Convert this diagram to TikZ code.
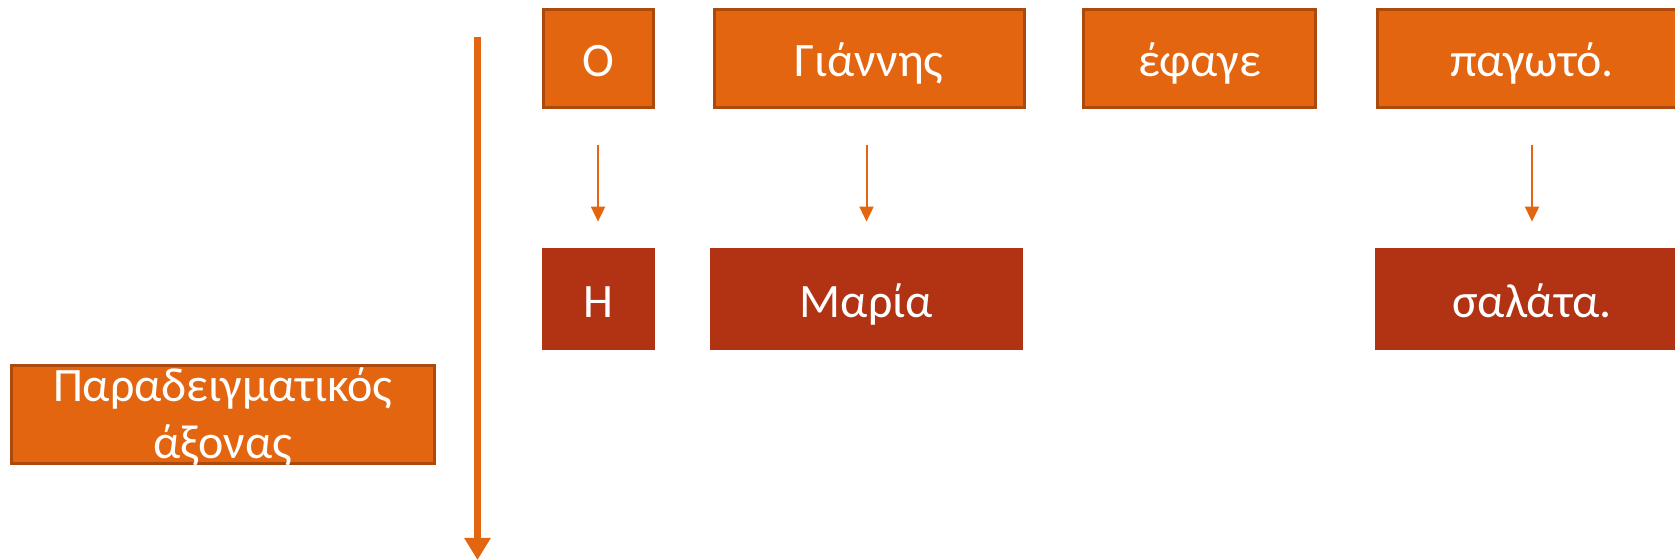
\documentclass[tikz,border=0pt]{standalone}
\usepackage{fontspec}
\setmainfont{Carlito}
\usetikzlibrary{arrows.meta}
\definecolor{ocre}{RGB}{227,101,16}
\definecolor{brique}{RGB}{178,50,20}
\definecolor{brun}{RGB}{172,74,14}
\tikzset{
  boite/.style={draw=brun, line width=1.5pt, fill=ocre, inner sep=0pt, minimum height=49pt},
  mot/.style={boite, text=white, text height=22pt, text depth=3.5pt,
    font=\fontsize{24}{25.5}\selectfont},
  subst/.style={fill=brique, text=white, inner sep=0pt, minimum height=51pt,
    text height=22pt, text depth=3.5pt, font=\fontsize{24}{25.5}\selectfont},
  fleche/.style={ocre, line width=1pt, -{Triangle[width=7pt,length=7.5pt]},
    shorten <=18pt, shorten >=13pt}
}
\begin{document}
\begin{tikzpicture}[x=0.5pt,y=-0.5pt]
\useasboundingbox (0,0) rectangle (1675,560);
\clip (0,0) rectangle (1675,560);
% first line
\node [mot, minimum width=55pt] (o) at (598,58.5) {Ο};
\node [mot, minimum width=155pt] (giannis) at (869,58.5) {Γιάννης};
\node [mot, minimum width=116pt] (efage) at (1199.5,58.5) {έφαγε};
\node [mot, minimum width=155pt] (pagoto) at (1532,58.5) {παγωτό.};
% second line
\node [subst, minimum width=56.5pt] (i) at (598,299) {Η};
\node [subst, minimum width=156.5pt] (maria) at (866.5,299) {Μαρία};
\node [subst, minimum width=157pt] (salata) at (1532,299) {σαλάτα.};
% axis
\node [boite, minimum width=211.5pt,
  label={[text=white, align=center, font=\fontsize{24}{28.5}\selectfont, yshift=-1pt]center:Παραδειγματικός\\άξονας}]
  (axonas) at (222.8,414.5) {};
\coordinate (haut) at (477.5,37);
\coordinate (bas) at (477.5,560);
\draw [ocre, line width=3.5pt, -{Triangle[width=12.5pt,length=11pt]}] (haut) -- (bas);
% arrows
\draw [fleche] (o) -- (i);
\draw [fleche] (giannis.south -| maria.north) -- (maria);
\draw [fleche] (pagoto) -- (salata);
\end{tikzpicture}
\end{document}
